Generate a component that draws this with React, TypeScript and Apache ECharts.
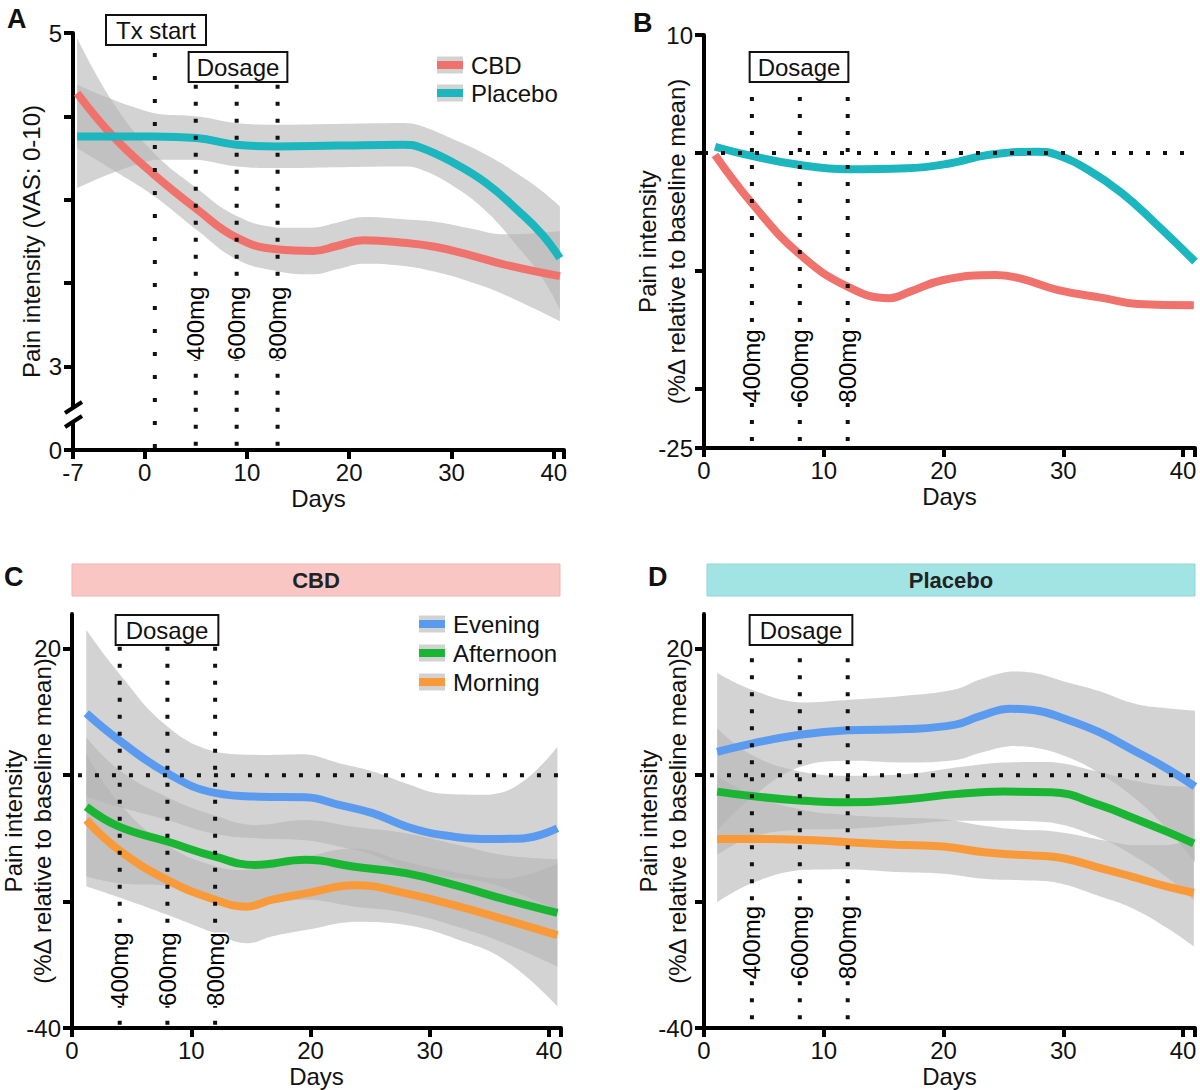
import React, { useEffect, useRef } from "react";
import * as echarts from "echarts";

const FONT = "'Liberation Sans', Arial, Helvetica, sans-serif";
const BAND = "rgba(180,180,180,0.59)";
const RED = "#F0726C";
const TEAL = "#1BB6BE";
const BLUE = "#5A9BF0";
const GREEN = "#1BB534";
const ORANGE = "#F99A3A";

// ---------- Panel A (VAS 0-10) ----------
const daysCbdA = [-6.6, -3.0, 0.85, 5.1, 9.0, 12.9, 16.5, 18.8, 21.4, 25.3, 28.5, 31.8, 35.1, 40.6];
const cbdA = [4.64, 4.375, 4.155, 3.944, 3.773, 3.703, 3.693, 3.723, 3.757, 3.743, 3.717, 3.669, 3.613, 3.542];
const cbdHalfA = [0.33, 0.2, 0.13, 0.125, 0.13, 0.13, 0.14, 0.14, 0.14, 0.14, 0.15, 0.16, 0.18, 0.27];
const daysPlaA = [-6.6, 0.85, 5.1, 9.0, 12.9, 18.8, 25.3, 26.9, 30.1, 33.4, 36.6, 38.9, 40.6];
const placeboA = [4.38, 4.38, 4.37, 4.33, 4.32, 4.325, 4.33, 4.315, 4.225, 4.1, 3.93, 3.79, 3.65];
const plaHalfA = [0.31, 0.14, 0.13, 0.13, 0.13, 0.13, 0.13, 0.13, 0.14, 0.17, 0.22, 0.26, 0.31];

// ---------- Panel B (% change) ----------
const daysCbdB = [0.92, 4.0, 7.9, 12.0, 15.5, 17.2, 20.0, 24.4, 26.4, 29.5, 33.4, 36.2, 40.9];
const cbdB = [-0.17, -4.26, -8.5, -11.33, -12.3, -11.75, -10.76, -10.34, -10.62, -11.6, -12.3, -12.8, -12.9];
const daysPlaB = [0.92, 4.0, 7.9, 12.0, 16.9, 20.6, 23.7, 27.9, 29.5, 32.1, 34.9, 37.7, 41.0];
const placeboB = [0.53, -0.25, -1.0, -1.38, -1.3, -0.87, -0.17, 0.11, -0.17, -1.44, -3.4, -5.96, -9.2];

// ---------- Panel C (CBD by time of day) ----------
const daysEveC = [1.2, 3.9, 8, 12, 15.7, 19.6, 22.4, 25.2, 28, 30.8, 35, 37.8, 40.7];
const eveningC = [9.8, 5.6, 0.3, -2.8, -3.4, -3.5, -4.7, -6.0, -8.1, -9.4, -10.1, -10.0, -8.4];
const eveHalfC = [13.2, 10.6, 7.4, 6.5, 6.6, 6.8, 6.6, 6.6, 6.8, 6.5, 7.0, 9.0, 12.9];
const daysAftC = [1.2, 3.9, 8, 12, 15.3, 19.6, 23.7, 28, 32.5, 36.4, 40.7];
const afternoonC = [-5.0, -8.1, -10.5, -12.9, -14.2, -13.4, -14.5, -15.5, -17.6, -19.7, -21.8];
const aftHalfC = [11, 9, 7, 6.5, 6.3, 6.3, 6.3, 6.3, 6.5, 7, 8.5];
const daysMorC = [1.2, 3.9, 8, 12, 14.6, 16.8, 19.6, 23.7, 28, 32.5, 36.4, 40.7];
const morningC = [-7.1, -11.8, -16.6, -19.7, -20.8, -19.7, -18.7, -17.4, -18.7, -20.8, -22.9, -25.3];
const morHalfC = [10.5, 7.5, 5.5, 5.3, 5.8, 5.8, 5.8, 5.8, 5, 5.3, 6.5, 11.3];

// ---------- Panel D (Placebo by time of day) ----------
const daysEveD = [1.1, 4, 8, 12, 17, 21, 23, 25.6, 27.5, 30.3, 33, 36, 38.6, 41];
const eveningD = [3.7, 5.0, 6.4, 7.1, 7.3, 8.0, 9.3, 10.5, 10.3, 8.8, 6.8, 3.8, 1.1, -1.8];
const eveHalfD = [12.5, 8.5, 5.1, 4.8, 5.3, 5.6, 5.8, 5.9, 5.9, 5.9, 6.5, 7.5, 9.5, 12];
const daysAftD = [1.1, 4, 8, 12, 17, 21, 25, 29, 33, 36, 38.6, 40.9];
const afternoonD = [-2.6, -3.3, -4.0, -4.3, -3.8, -3.0, -2.6, -2.7, -4.7, -6.9, -8.9, -10.8];
const aftHalfD = [10, 6.5, 4.6, 4.2, 4, 4.2, 4.6, 4.8, 5.2, 6, 7.2, 9];
const daysMorD = [1.1, 4, 8, 12, 16, 20, 23.4, 26.2, 29.2, 33.1, 35.8, 38.6, 40.9];
const morningD = [-10.1, -10.1, -10.2, -10.6, -11, -11.3, -12.2, -12.6, -12.9, -14.7, -16.1, -17.6, -18.6];
const morHalfD = [10, 7, 4.8, 4.3, 4.3, 4.3, 4.2, 4, 4, 4.5, 5, 6.5, 8.5];

// ---------- Annotations ----------
const txStartDayA = 1;
const doseDaysA = [5, 9, 13];
const doseDaysBCD = [4, 8, 12];
const doseLabels = ["400mg", "600mg", "800mg"];

// ---------- Axis ticks ----------
const xTicksA = [-7, 0, 10, 20, 30, 40, 41];
const xLabelsA = [-7, 0, 10, 20, 30, 40];
const xTicks = [0, 10, 20, 30, 40, 41];
const xLabels = [0, 10, 20, 30, 40];
const yTicksA = [2.5, 3, 3.5, 4, 4.5, 5];
const yLabelsA = [2.5, 3, 5];
const yTicksB = [-25, -20, -10, 0, 10];
const yLabelsB = [-25, 10];
const yTicksCD = [-40, -20, 0, 20];
const yLabelsCD = [-40, 20];

const SMOOTH = 0.45;

function clamp(v: number, a: number, b: number) {
  return Math.min(Math.max(v, Math.min(a, b)), Math.max(a, b));
}

// sample the same kind of smoothed curve that the line series draws (pixel space)
function smoothSample(p: number[][], s: number): number[][] {
  const n = p.length;
  if (n < 2) return p.slice();
  const out: number[][] = [p[0]];
  let cp0 = p[0];
  for (let k = 1; k < n; k++) {
    const [x, y] = p[k];
    const [px, py] = p[k - 1];
    let cp1: number[];
    let nextCp0: number[];
    if (k === n - 1) {
      cp1 = [x, y];
      nextCp0 = [x, y];
    } else {
      const [nx, ny] = p[k + 1];
      const vx = nx - px;
      const vy = ny - py;
      const l0 = Math.hypot(x - px, y - py);
      const l1 = Math.hypot(nx - x, ny - y);
      const r = l1 / (l0 + l1 || 1);
      cp1 = [clamp(x - vx * s * (1 - r), px, x), clamp(y - vy * s * (1 - r), py, y)];
      nextCp0 = [clamp(x + vx * s * r, x, nx), clamp(y + vy * s * r, y, ny)];
    }
    const N = 14;
    for (let j = 1; j <= N; j++) {
      const t = j / N;
      const u = 1 - t;
      const bx = u * u * u * px + 3 * u * u * t * cp0[0] + 3 * u * t * t * cp1[0] + t * t * t * x;
      const by = u * u * u * py + 3 * u * u * t * cp0[1] + 3 * u * t * t * cp1[1] + t * t * t * y;
      out.push([bx, by]);
    }
    cp0 = nextCp0;
  }
  return out;
}

function band(id: string, g: number, days: number[], vals: number[], half: number[]) {
  return {
    type: "custom",
    name: id,
    coordinateSystem: "cartesian2d",
    xAxisIndex: g,
    yAxisIndex: g,
    silent: true,
    z: 1,
    data: days.map((d, i) => [d, vals[i] - half[i], vals[i] + half[i]]),
    encode: { x: 0, y: [1, 2] },
    renderItem: (params: any, api: any) => {
      if (params.dataIndex !== 0) return null;
      const up = days.map((d, i) => api.coord([d, vals[i] + half[i]]));
      const lo = days.map((d, i) => api.coord([d, vals[i] - half[i]]));
      const pts = smoothSample(up, SMOOTH).concat(smoothSample(lo.slice().reverse(), SMOOTH));
      return { type: "polygon", shape: { points: pts }, style: { fill: BAND } };
    },
  };
}

function curve(name: string, g: number, days: number[], vals: number[], color: string) {
  return {
    type: "line",
    name,
    xAxisIndex: g,
    yAxisIndex: g,
    data: days.map((d, i) => [d, vals[i]]),
    smooth: SMOOTH,
    symbol: "none",
    lineStyle: { color, width: 8 },
    z: 3,
  };
}

function dotted(g: number, data: number[][], gap: number) {
  return {
    type: "line",
    xAxisIndex: g,
    yAxisIndex: g,
    data,
    symbol: "none",
    silent: true,
    lineStyle: { color: "#111", width: 4, type: [4, gap] },
    z: 5,
  };
}

function doseText(g: number, days: number[], y: number) {
  return {
    type: "scatter",
    xAxisIndex: g,
    yAxisIndex: g,
    symbolSize: 0,
    silent: true,
    z: 10,
    itemStyle: { opacity: 0 },
    data: days.map((d, i) => ({ value: [d, y], name: doseLabels[i] })),
    label: {
      show: true,
      position: "inside",
      rotate: 90,
      formatter: (p: any) => p.name,
      fontSize: 24,
      fontFamily: FONT,
      color: "#000",
      opacity: 1,
      backgroundColor: "#fff",
      padding: [1, 0],
    },
  };
}

function xAxis(g: number, min: number, max: number, ticks: number[], labels: number[]) {
  return {
    type: "value",
    gridIndex: g,
    min,
    max,
    name: "Days",
    nameLocation: "middle",
    nameGap: 36,
    nameMoveOverlap: false,
    nameTextStyle: { fontSize: 24, color: "#111", fontFamily: FONT },
    axisLine: { show: true, onZero: false, lineStyle: { color: "#000", width: 4 } },
    axisTick: { show: true, length: 9, lineStyle: { color: "#000", width: 4 }, customValues: ticks },
    axisLabel: { show: true, fontSize: 24, color: "#111", fontFamily: FONT, margin: 10, customValues: labels },
    splitLine: { show: false },
  };
}

function yAxis(
  g: number,
  min: number,
  max: number,
  ticks: number[],
  labels: number[],
  name: string,
  nameGap: number,
  fmt?: (v: number) => string
) {
  return {
    type: "value",
    gridIndex: g,
    min,
    max,
    name,
    nameLocation: "middle",
    nameRotate: 90,
    nameGap,
    nameMoveOverlap: false,
    nameTextStyle: { fontSize: 24, color: "#111", fontFamily: FONT, lineHeight: 29 },
    axisLine: { show: true, onZero: false, lineStyle: { color: "#000", width: 4 } },
    axisTick: { show: true, length: 9, lineStyle: { color: "#000", width: 4 }, customValues: ticks },
    axisLabel: {
      show: true,
      fontSize: 24,
      color: "#111",
      fontFamily: FONT,
      margin: 11,
      customValues: labels,
      formatter: fmt || ((v: number) => String(v)),
    },
    splitLine: { show: false },
  };
}

function boxText(text: string, x: number, y: number, padH: number) {
  return {
    type: "text",
    x,
    y,
    z: 50,
    style: {
      text,
      fontSize: 24,
      fontFamily: FONT,
      fill: "#111",
      align: "center",
      verticalAlign: "middle",
      backgroundColor: "#fff",
      borderColor: "#111",
      borderWidth: 2,
      padding: [2, padH, 2, padH],
    },
  };
}

function legendItem(x: number, y: number, color: string, text: string) {
  return [
    { type: "rect", z: 50, shape: { x, y: y - 8.5, width: 26, height: 17 }, style: { fill: "#D2D2D2" } },
    { type: "rect", z: 51, shape: { x, y: y - 4, width: 26, height: 8 }, style: { fill: color } },
    {
      type: "text",
      z: 51,
      x: x + 34,
      y,
      style: { text, fontSize: 24, fontFamily: FONT, fill: "#111", verticalAlign: "middle", align: "left" },
    },
  ];
}

function panelLetter(t: string, x: number, y: number) {
  return {
    type: "text",
    x,
    y,
    z: 50,
    style: { text: t, fontSize: 27, fontWeight: "bold", fontFamily: FONT, fill: "#111", verticalAlign: "middle" },
  };
}

const YNAME2 = "Pain intensity\n(%Δ relative to baseline mean)";

export default function App() {
  const ref = useRef<HTMLDivElement>(null);
  useEffect(() => {
    document.body.style.margin = "0";
    if (!ref.current) return;
    const chart = echarts.init(ref.current, null, { renderer: "svg" });

    const series: any[] = [
      // Panel A
      band("bandCbdA", 0, daysCbdA, cbdA, cbdHalfA),
      band("bandPlaA", 0, daysPlaA, placeboA, plaHalfA),
      curve("CBD", 0, daysCbdA, cbdA, RED),
      curve("Placebo", 0, daysPlaA, placeboA, TEAL),
      dotted(0, [[txStartDayA, 4.88], [txStartDayA, 2.5]], 19),
      ...doseDaysA.map((d) => dotted(0, [[d, 4.69], [d, 2.5]], 13)),
      doseText(0, doseDaysA, 3.26),
      // Panel B
      curve("CBD B", 1, daysCbdB, cbdB, RED),
      curve("Placebo B", 1, daysPlaB, placeboB, TEAL),
      dotted(1, [[0, 0], [41, 0]], 13),
      ...doseDaysBCD.map((d) => dotted(1, [[d, 4.75], [d, -25]], 13)),
      doseText(1, doseDaysBCD, -18.05),
      // Panel C
      band("bandEveC", 2, daysEveC, eveningC, eveHalfC),
      band("bandAftC", 2, daysAftC, afternoonC, aftHalfC),
      band("bandMorC", 2, daysMorC, morningC, morHalfC),
      curve("Evening", 2, daysEveC, eveningC, BLUE),
      curve("Afternoon", 2, daysAftC, afternoonC, GREEN),
      curve("Morning", 2, daysMorC, morningC, ORANGE),
      dotted(2, [[0.5, 0], [41, 0]], 13),
      ...doseDaysBCD.map((d) => dotted(2, [[d, 20.3], [d, -40]], 13)),
      doseText(2, doseDaysBCD, -30.7),
      // Panel D
      band("bandEveD", 3, daysEveD, eveningD, eveHalfD),
      band("bandAftD", 3, daysAftD, afternoonD, aftHalfD),
      band("bandMorD", 3, daysMorD, morningD, morHalfD),
      curve("Evening D", 3, daysEveD, eveningD, BLUE),
      curve("Afternoon D", 3, daysAftD, afternoonD, GREEN),
      curve("Morning D", 3, daysMorD, morningD, ORANGE),
      dotted(3, [[0.5, 0], [41, 0]], 13),
      ...doseDaysBCD.map((d) => dotted(3, [[d, 18.5], [d, -40]], 13)),
      doseText(3, doseDaysBCD, -26.5),
    ];

    const graphic: any[] = [
      panelLetter("A", 7, 19),
      panelLetter("B", 633, 23),
      panelLetter("C", 4, 577),
      panelLetter("D", 648, 577),
      boxText("Tx start", 156, 30, 9),
      boxText("Dosage", 238, 67, 7),
      boxText("Dosage", 799, 67, 7),
      boxText("Dosage", 167, 630, 9),
      boxText("Dosage", 801, 630, 9),
      ...legendItem(437, 65, RED, "CBD"),
      ...legendItem(437, 93, TEAL, "Placebo"),
      ...legendItem(419, 624, BLUE, "Evening"),
      ...legendItem(419, 653, GREEN, "Afternoon"),
      ...legendItem(419, 682, ORANGE, "Morning"),
      // header bars
      { type: "rect", z: 40, shape: { x: 72, y: 564, width: 488, height: 32 }, style: { fill: "#F9C6C4", stroke: "#EDB5B3", lineWidth: 1 } },
      {
        type: "text", z: 41, x: 316, y: 580,
        style: { text: "CBD", fontSize: 22, fontWeight: "bold", fontFamily: FONT, fill: "#222", align: "center", verticalAlign: "middle" },
      },
      { type: "rect", z: 40, shape: { x: 707, y: 564, width: 488, height: 32 }, style: { fill: "#A2E4E4", stroke: "#8FD6D6", lineWidth: 1 } },
      {
        type: "text", z: 41, x: 951, y: 580,
        style: { text: "Placebo", fontSize: 22, fontWeight: "bold", fontFamily: FONT, fill: "#222", align: "center", verticalAlign: "middle" },
      },
      // axis break on panel A
      { type: "rect", z: 60, shape: { x: 66, y: 408, width: 14, height: 13 }, style: { fill: "#fff" } },
      { type: "line", z: 61, shape: { x1: 65, y1: 413, x2: 82, y2: 402 }, style: { stroke: "#000", lineWidth: 4 } },
      { type: "line", z: 61, shape: { x1: 65, y1: 427, x2: 82, y2: 416 }, style: { stroke: "#000", lineWidth: 4 } },
    ];

    const gridBase = { containLabel: false, outerBoundsMode: "none" };
    chart.setOption({
      animation: false,
      backgroundColor: "#fff",
      textStyle: { fontFamily: FONT },
      grid: [
        { ...gridBase, left: 73, top: 33, width: 491, height: 417 },
        { ...gridBase, left: 704, top: 35, width: 491, height: 413 },
        { ...gridBase, left: 72, top: 614, width: 489, height: 414 },
        { ...gridBase, left: 704, top: 614, width: 491, height: 414 },
      ],
      xAxis: [
        xAxis(0, -7, 41, xTicksA, xLabelsA),
        xAxis(1, 0, 41, xTicks, xLabels),
        xAxis(2, 0, 41, xTicks, xLabels),
        xAxis(3, 0, 41, xTicks, xLabels),
      ],
      yAxis: [
        yAxis(0, 2.5, 5, yTicksA, yLabelsA, "Pain intensity (VAS: 0-10)", 27, (v: number) => (v === 2.5 ? "0" : String(v))),
        yAxis(1, -25, 10, yTicksB, yLabelsB, YNAME2, 13),
        yAxis(2, -40, 25.5, yTicksCD, yLabelsCD, YNAME2, 15),
        yAxis(3, -40, 25.5, yTicksCD, yLabelsCD, YNAME2, 12),
      ],
      series,
      graphic,
    });
    return () => chart.dispose();
  }, []);
  return <div ref={ref} style={{ width: 1200, height: 1090 }} />;
}
